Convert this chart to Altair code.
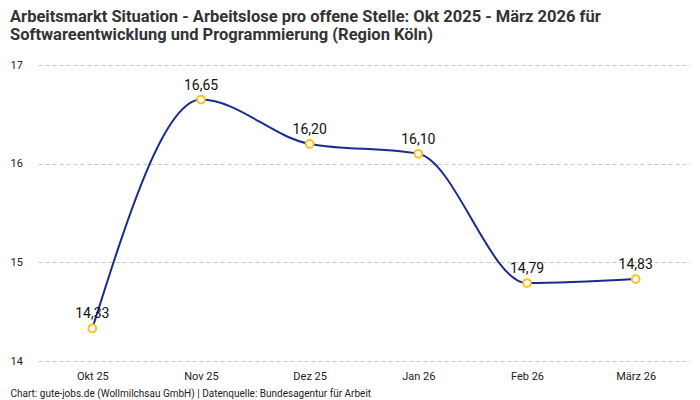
import altair as alt
import pandas as pd

months = ["Okt 25", "Nov 25", "Dez 25", "Jan 26", "Feb 26", "März 26"]
values = [14.33, 16.65, 16.20, 16.10, 14.79, 14.83]
labels = [f"{v:.2f}".replace(".", ",") for v in values]

df = pd.DataFrame({"month": months, "value": values, "label": labels})

FONT = "Roboto"
W, H = 652, 296

x = alt.X("month:N", sort=months, scale=alt.Scale(type="point", padding=0.5),
          axis=alt.Axis(title="Chart: gute-jobs.de (Wollmilchsau GmbH) | Datenquelle: Bundesagentur für Arbeit",
                        titleFont=FONT, titleFontSize=10, titleFontWeight="normal", titleColor="#222",
                        titleAnchor="start", titleAlign="left", titleBaseline="alphabetic",
                        titleX=-28, titleY=35,
                        labelFont=FONT, labelFontSize=11, labelColor="#222", labelPadding=9,
                        labelAngle=0, domain=False, ticks=False, grid=False))
y = alt.Y("value:Q", scale=alt.Scale(domain=[14, 17], zero=False, nice=False),
          axis=alt.Axis(title=None, values=[14, 15, 16, 17], format="d",
                        labelFont=FONT, labelFontSize=11, labelColor="#222",
                        labelAlign="left", labelPadding=28, domain=False, ticks=False,
                        grid=True, gridDash=[4, 3], gridColor="#c8c8c8", gridWidth=1))

base = alt.Chart(df).encode(x=x, y=y)

line = base.mark_line(interpolate="monotone", color="#1b2a8f", strokeWidth=2)
pts = base.mark_point(filled=True, fill="white", stroke="#f7c21b", strokeWidth=2,
                      size=60, opacity=1, strokeOpacity=1, fillOpacity=1)
txt = base.mark_text(dy=-14, font=FONT, fontSize=14, color="#111").encode(text="label:N")

chart = (line + pts + txt).properties(
    width=W, height=H,
    autosize=alt.AutoSizeParams(type="none"),
    padding={"left": 30, "top": 57, "right": 2, "bottom": 39},
    title=alt.TitleParams(
        text=["Arbeitsmarkt Situation - Arbeitslose pro offene Stelle: Okt 2025 - März 2026 für",
              "Softwareentwicklung und Programmierung (Region Köln)"],
        font=FONT, fontSize=16.5, fontWeight="bold", color="#333",
        anchor="start", frame="group", dx=-28, offset=16, lineHeight=17.5),
).configure_view(stroke=None)

chart.save("out.html", embed_options={"renderer": "svg", "actions": False})
